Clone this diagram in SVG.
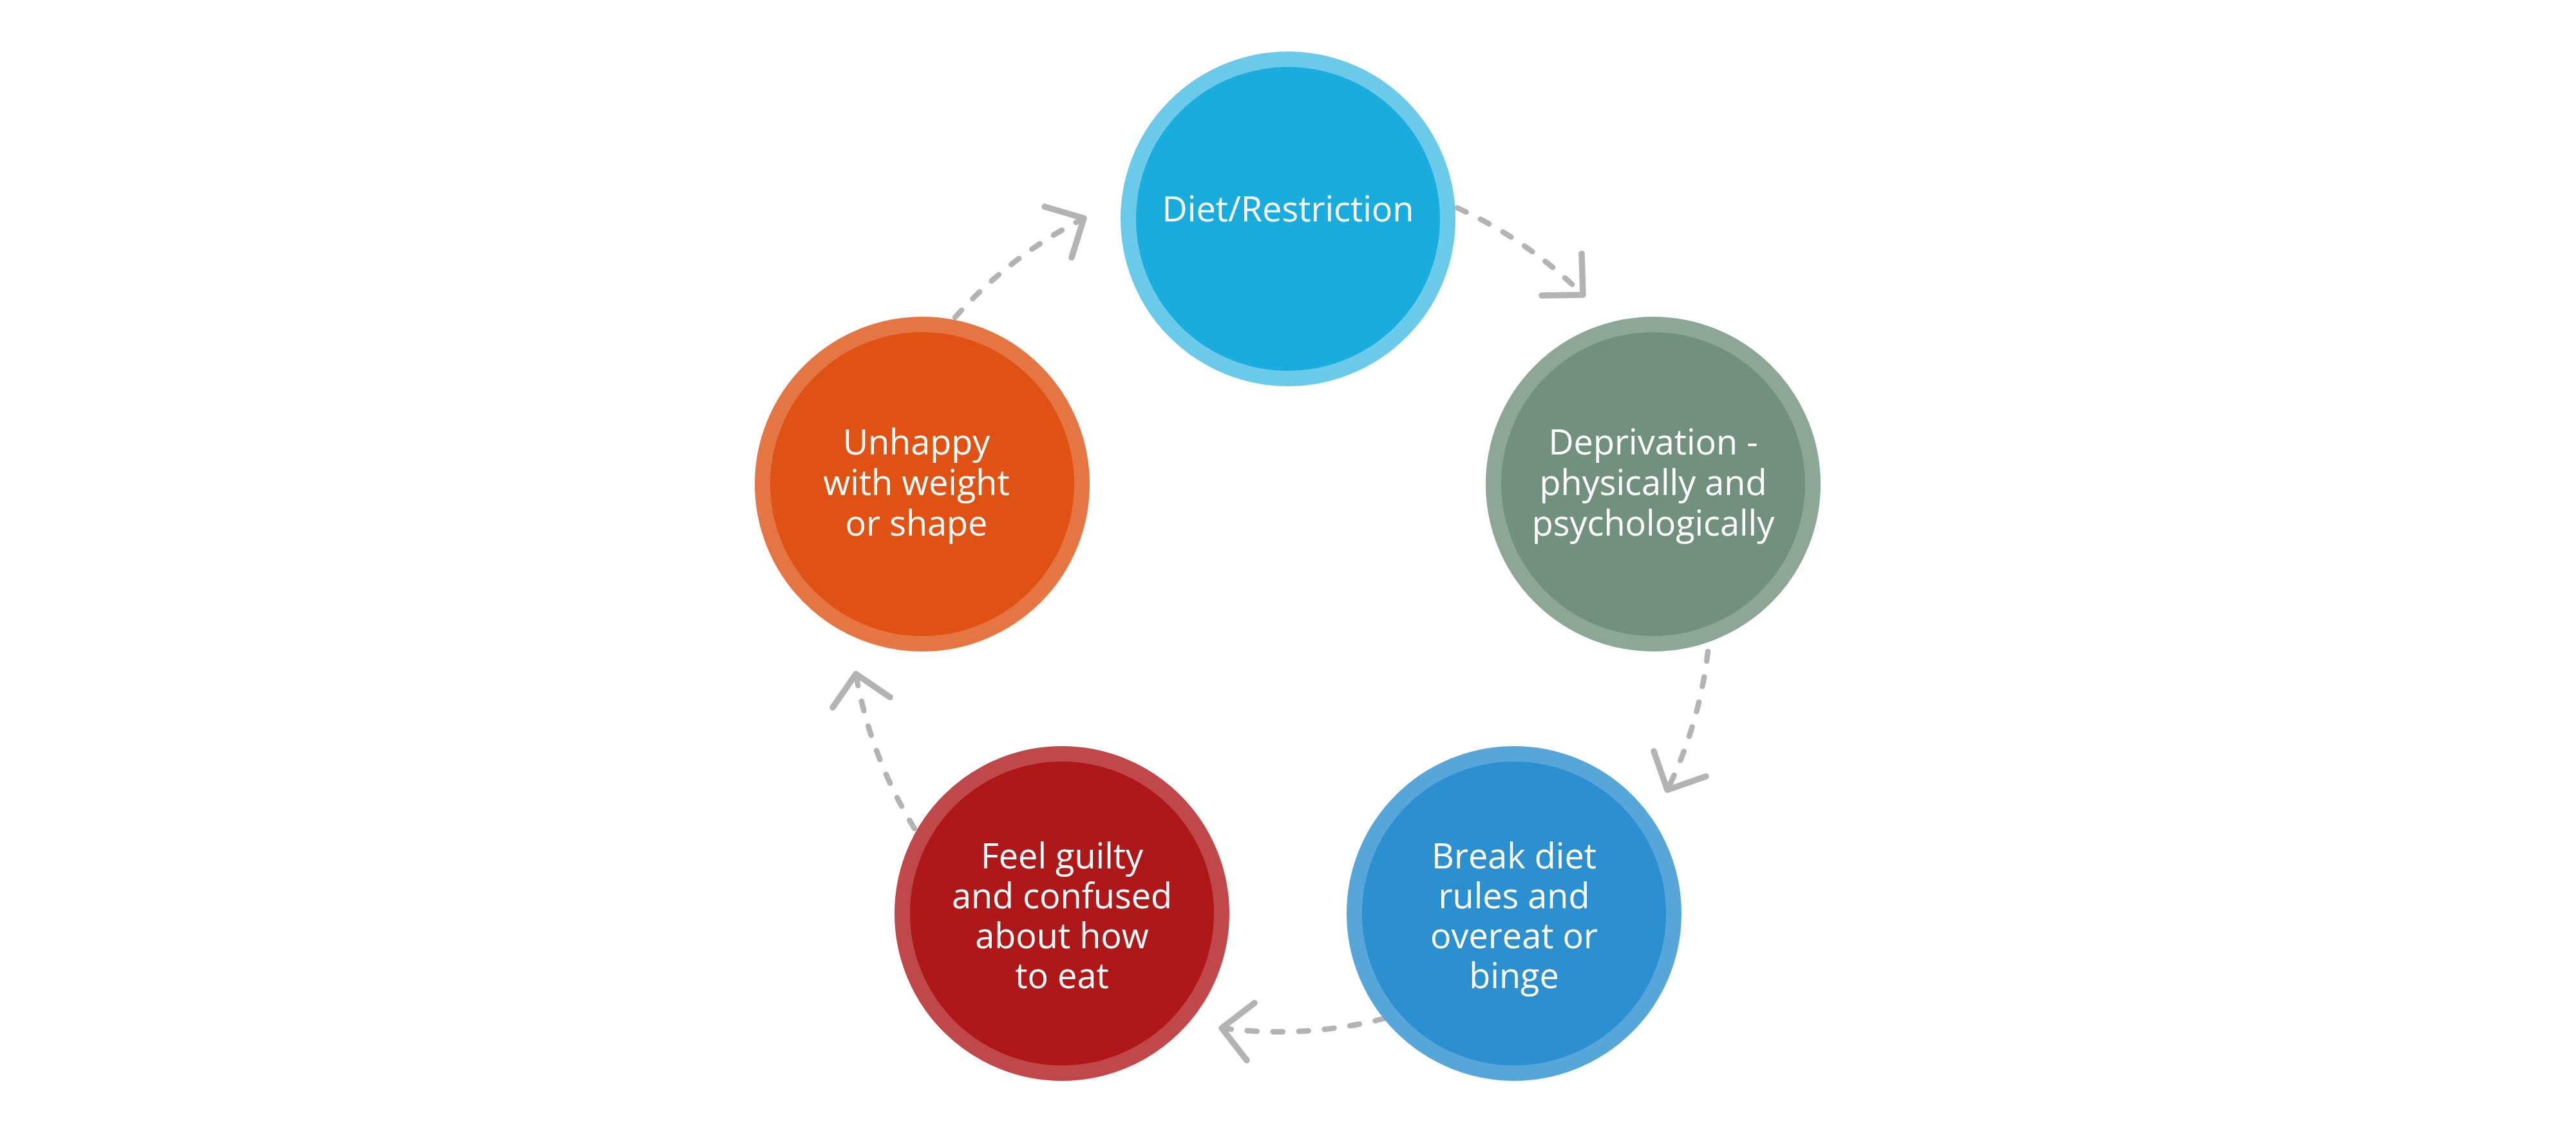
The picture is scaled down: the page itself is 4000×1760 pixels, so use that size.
<svg xmlns="http://www.w3.org/2000/svg" width="4000" height="1760" viewBox="0 0 4000 1760">
<style>
.bg{fill:#ffffff}
.ring{stroke-width:24}
.lbl{font-family:"Open Sans","Noto Sans","Liberation Sans",sans-serif;font-size:54px;fill:#ffffff;text-anchor:middle}
.dash{fill:none;stroke:#B3B3B3;stroke-width:8.5;stroke-linecap:round;stroke-dasharray:15 25}
.head{fill:none;stroke:#B3B3B3;stroke-width:9.5;stroke-linecap:round;stroke-linejoin:round}
</style>
<rect class="bg" x="0" y="0" width="4000" height="1760"/>
<g id="connectors">
  <path class="dash" d="M 2263 323 A 663 663 0 0 1 2458 458"/>
  <polyline class="head" points="2456,394 2458,458 2394,459"/>
  <path class="dash" d="M 2652 1012 A 657 657 0 0 1 2589 1227"/>
  <polyline class="head" points="2649,1206 2589,1227 2568,1167"/>
  <path class="dash" d="M 2150 1582 A 667 667 0 0 1 1897 1597"/>
  <polyline class="head" points="1948,1558 1897,1597 1936,1647"/>
  <path class="dash" d="M 1420 1287 A 679 679 0 0 1 1329 1047"/>
  <polyline class="head" points="1293,1099 1329,1047 1382,1083"/>
  <path class="dash" d="M 1483 493 A 677 677 0 0 1 1683 339"/>
  <polyline class="head" points="1622,321 1683,339 1664,400"/>
</g>
<g id="node-diet">
  <circle class="ring" cx="2000" cy="340" r="248" fill="#19ACDD" stroke="#6BCAEA"/>
  <text class="lbl" x="2000" y="344">Diet/Restriction</text>
</g>
<g id="node-deprivation">
  <circle class="ring" cx="2567" cy="752" r="248" fill="#72907E" stroke="#8DA797"/>
  <text class="lbl" x="2567" y="706">Deprivation -</text>
  <text class="lbl" x="2567" y="769">physically and</text>
  <text class="lbl" x="2567" y="832">psychologically</text>
</g>
<g id="node-break">
  <circle class="ring" cx="2351" cy="1419" r="248" fill="#2B8FD0" stroke="#57A6D9"/>
  <text class="lbl" x="2351" y="1349">Break diet</text>
  <text class="lbl" x="2351" y="1411">rules and</text>
  <text class="lbl" x="2351" y="1473">overeat or</text>
  <text class="lbl" x="2351" y="1535">binge</text>
</g>
<g id="node-guilty">
  <circle class="ring" cx="1649" cy="1419" r="248" fill="#AF1818" stroke="#C0484A"/>
  <text class="lbl" x="1649" y="1349">Feel guilty</text>
  <text class="lbl" x="1649" y="1411">and confused</text>
  <text class="lbl" x="1649" y="1473">about how</text>
  <text class="lbl" x="1649" y="1535">to eat</text>
</g>
<g id="node-unhappy">
  <circle class="ring" cx="1432" cy="752" r="248" fill="#DF5214" stroke="#E67544"/>
  <text class="lbl" x="1423" y="706">Unhappy</text>
  <text class="lbl" x="1423" y="769">with weight</text>
  <text class="lbl" x="1423" y="832">or shape</text>
</g>
</svg>
